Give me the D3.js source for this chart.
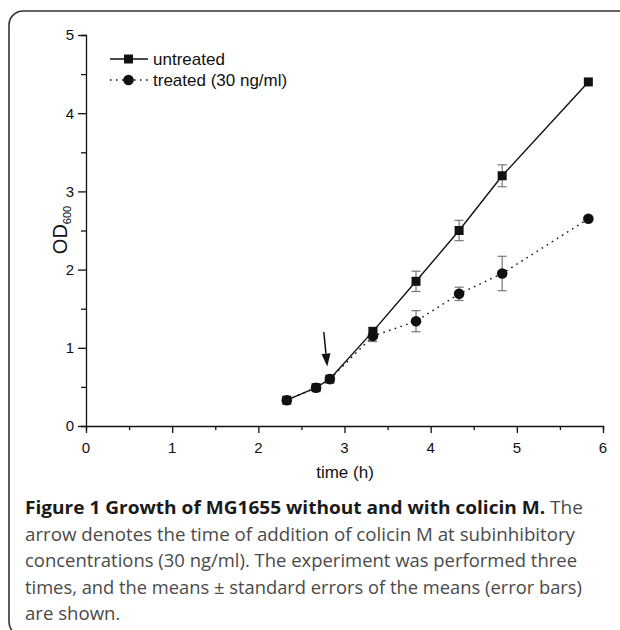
<!DOCTYPE html>
<html>
<head>
<meta charset="utf-8">
<script src="https://cdn.jsdelivr.net/npm/d3@7"></script>
<style>
  html, body { margin: 0; padding: 0; background: #fff; overflow: hidden; }
  svg { display: block; }
</style>
</head>
<body>
<div id="chart"></div>
<script>
const time = [2.33, 2.67, 2.83, 3.33, 3.83, 4.33, 4.83, 5.83];
const untreated = [0.33, 0.49, 0.60, 1.21, 1.85, 2.50, 3.20, 4.40];
const untreatedErr = [0.02, 0.02, 0.02, 0.05, 0.13, 0.13, 0.14, 0.02];
const treated = [0.33, 0.49, 0.60, 1.15, 1.34, 1.69, 1.95, 2.65];
const treatedErr = [0.02, 0.02, 0.02, 0.07, 0.135, 0.085, 0.22, 0.02];
const xTicks = [0, 1, 2, 3, 4, 5, 6];
const yTicks = [0, 1, 2, 3, 4, 5];
const arrowFrom = [2.76, 1.20];
const arrowTo = [2.80, 0.76];
const seriesNames = ['untreated', 'treated (30 ng/ml)'];
const captionBold = 'Figure 1 Growth of MG1655 without and with colicin M.';
const captionLines = [
    ' The',
    'arrow denotes the time of addition of colicin M at subinhibitory',
    'concentrations (30 ng/ml). The experiment was performed three',
    'times, and the means \u00b1 standard errors of the means (error bars)',
    'are shown.'
];
const captionWidths = [558, 550, 552, 557, null];

const W = 620, H = 630;
const svg = d3.select('#chart').append('svg')
    .attr('width', W)
    .attr('height', H);

// figure frame (only left/top/bottom-left visible)
svg.append('path')
    .attr('d', 'M700,11H23A14,14 0 0 0 9,25V622A14,14 0 0 0 23,636H700')
    .attr('fill', 'none')
    .attr('stroke', '#333')
    .attr('stroke-width', 1.6);

const x = d3.scaleLinear().domain([0, 6]).range([86, 603]);
const y = d3.scaleLinear().domain([0, 5]).range([426, 35]);

const font = '"Liberation Sans", Arial, sans-serif';

// axes (ticks only, labels below)
const xAxis = svg.append('g').attr('transform', 'translate(0,426)');
xAxis.call(d3.axisBottom(x).tickValues(d3.range(0, 6.01, 0.5)).tickSize(4).tickFormat(''));
xAxis.call(g => g.selectAll('.tick line').filter(d => d % 1 === 0).attr('y2', 7));

const yAxis = svg.append('g').attr('transform', 'translate(86,0)');
yAxis.call(d3.axisLeft(y).tickValues(d3.range(0, 5.01, 0.5)).tickSize(5).tickFormat(''));
yAxis.call(g => g.selectAll('.tick line').filter(d => d % 1 === 0).attr('x2', -8));

svg.selectAll('.domain').attr('stroke', '#111').attr('stroke-width', 1.3);
svg.selectAll('.tick line').attr('stroke', '#111').attr('stroke-width', 1.3);

svg.append('g').selectAll('text')
    .data(xTicks)
    .join('text')
    .attr('x', d => x(d)).attr('y', 452.5)
    .attr('text-anchor', 'middle')
    .attr('font-family', font).attr('font-size', 15).attr('fill', '#111')
    .text(d => d);
svg.append('g').selectAll('text')
    .data(yTicks)
    .join('text')
    .attr('x', 74).attr('y', d => y(d) + 5.3)
    .attr('text-anchor', 'end')
    .attr('font-family', font).attr('font-size', 15).attr('fill', '#111')
    .text(d => d);

// axis titles
svg.append('text')
    .attr('x', 345).attr('y', 478)
    .attr('text-anchor', 'middle')
    .attr('font-family', font).attr('font-size', 17).attr('fill', '#111')
    .text('time (h)');

const od = svg.append('text')
    .attr('transform', 'translate(67,230) rotate(-90)')
    .attr('text-anchor', 'middle')
    .attr('font-family', font).attr('font-size', 20).attr('fill', '#111');
od.append('tspan').text('OD');
od.append('tspan').attr('font-size', 11).attr('dy', 4).text('600');

// error bars
function errorBars(vals, errs) {
    const g = svg.append('g').attr('stroke', '#777').attr('stroke-width', 1.2);
    time.forEach((t, i) => {
        if (errs[i] < 0.04) return;
        const cx = x(t);
        const y0 = y(vals[i] - errs[i]), y1 = y(vals[i] + errs[i]);
        g.append('line').attr('x1', cx).attr('x2', cx).attr('y1', y0).attr('y2', y1);
        g.append('line').attr('x1', cx - 4.5).attr('x2', cx + 4.5).attr('y1', y0).attr('y2', y0);
        g.append('line').attr('x1', cx - 4.5).attr('x2', cx + 4.5).attr('y1', y1).attr('y2', y1);
    });
}
errorBars(untreated, untreatedErr);
errorBars(treated, treatedErr);

const line = d3.line().x(d => x(d[0])).y(d => y(d[1]));

// untreated
svg.append('path')
    .datum(time.map((t, i) => [t, untreated[i]]))
    .attr('d', line)
    .attr('fill', 'none').attr('stroke', '#111').attr('stroke-width', 1.4);
svg.append('g').selectAll('rect')
    .data(time.map((t, i) => [t, untreated[i]]))
    .join('rect')
    .attr('x', d => x(d[0]) - 4.5).attr('y', d => y(d[1]) - 4.5)
    .attr('width', 9).attr('height', 9)
    .attr('fill', '#111');

// treated
svg.append('path')
    .datum(time.map((t, i) => [t, treated[i]]))
    .attr('d', line)
    .attr('fill', 'none').attr('stroke', '#111').attr('stroke-width', 1.4)
    .attr('stroke-dasharray', '1.6,4.4');
svg.append('g').selectAll('circle')
    .data(time.map((t, i) => [t, treated[i]]))
    .join('circle')
    .attr('cx', d => x(d[0])).attr('cy', d => y(d[1]))
    .attr('r', 5.3)
    .attr('fill', '#111');

// arrow marking addition of colicin M
const ax0 = x(arrowFrom[0]), ay0 = y(arrowFrom[1]);
const ax1 = x(arrowTo[0]), ay1 = y(arrowTo[1]);
const ang = Math.atan2(ay1 - ay0, ax1 - ax0);
const hl = 13, hw = 4.5;
const bx = ax1 - hl * Math.cos(ang), by = ay1 - hl * Math.sin(ang);
svg.append('line')
    .attr('x1', ax0).attr('y1', ay0).attr('x2', bx).attr('y2', by)
    .attr('stroke', '#111').attr('stroke-width', 1.5);
svg.append('path')
    .attr('d', `M${ax1},${ay1}L${bx - hw * Math.sin(ang)},${by + hw * Math.cos(ang)}L${bx + hw * Math.sin(ang)},${by - hw * Math.cos(ang)}Z`)
    .attr('fill', '#111');

// legend
const lg = svg.append('g').attr('font-family', font).attr('font-size', 17).attr('fill', '#111');
const rows = [59, 80];
lg.append('line').attr('x1', 110).attr('x2', 148).attr('y1', rows[0]).attr('y2', rows[0])
    .attr('stroke', '#111').attr('stroke-width', 1.4);
lg.append('rect').attr('x', 124).attr('y', rows[0] - 4.5).attr('width', 9).attr('height', 9).attr('fill', '#111');
lg.append('line').attr('x1', 110).attr('x2', 148).attr('y1', rows[1]).attr('y2', rows[1])
    .attr('stroke', '#111').attr('stroke-width', 1.4).attr('stroke-dasharray', '1.6,4.4');
lg.append('circle').attr('cx', 128.5).attr('cy', rows[1]).attr('r', 5.3).attr('fill', '#111');
seriesNames.forEach((name, i) => {
    lg.append('text').attr('x', 153).attr('y', rows[i] + 6).text(name);
});

// caption
const cap = svg.append('g').attr('font-family', '"Open Sans", "Noto Sans", sans-serif').attr('font-size', 18.6);
const baselines = [514, 540.5, 567, 593.5, 620];
const first = cap.append('text').attr('x', 25).attr('y', baselines[0])
    .attr('textLength', captionWidths[0]).attr('lengthAdjust', 'spacingAndGlyphs');
first.append('tspan').attr('font-weight', 'bold').attr('fill', '#1a1a1a').text(captionBold);
first.append('tspan').attr('fill', '#4a4a4a').text(captionLines[0]);
captionLines.slice(1).forEach((l, i) => {
    const t = cap.append('text').attr('x', 25).attr('y', baselines[i + 1]).attr('fill', '#4a4a4a').text(l);
    if (captionWidths[i + 1]) t.attr('textLength', captionWidths[i + 1]).attr('lengthAdjust', 'spacingAndGlyphs');
});
</script>
</body>
</html>
